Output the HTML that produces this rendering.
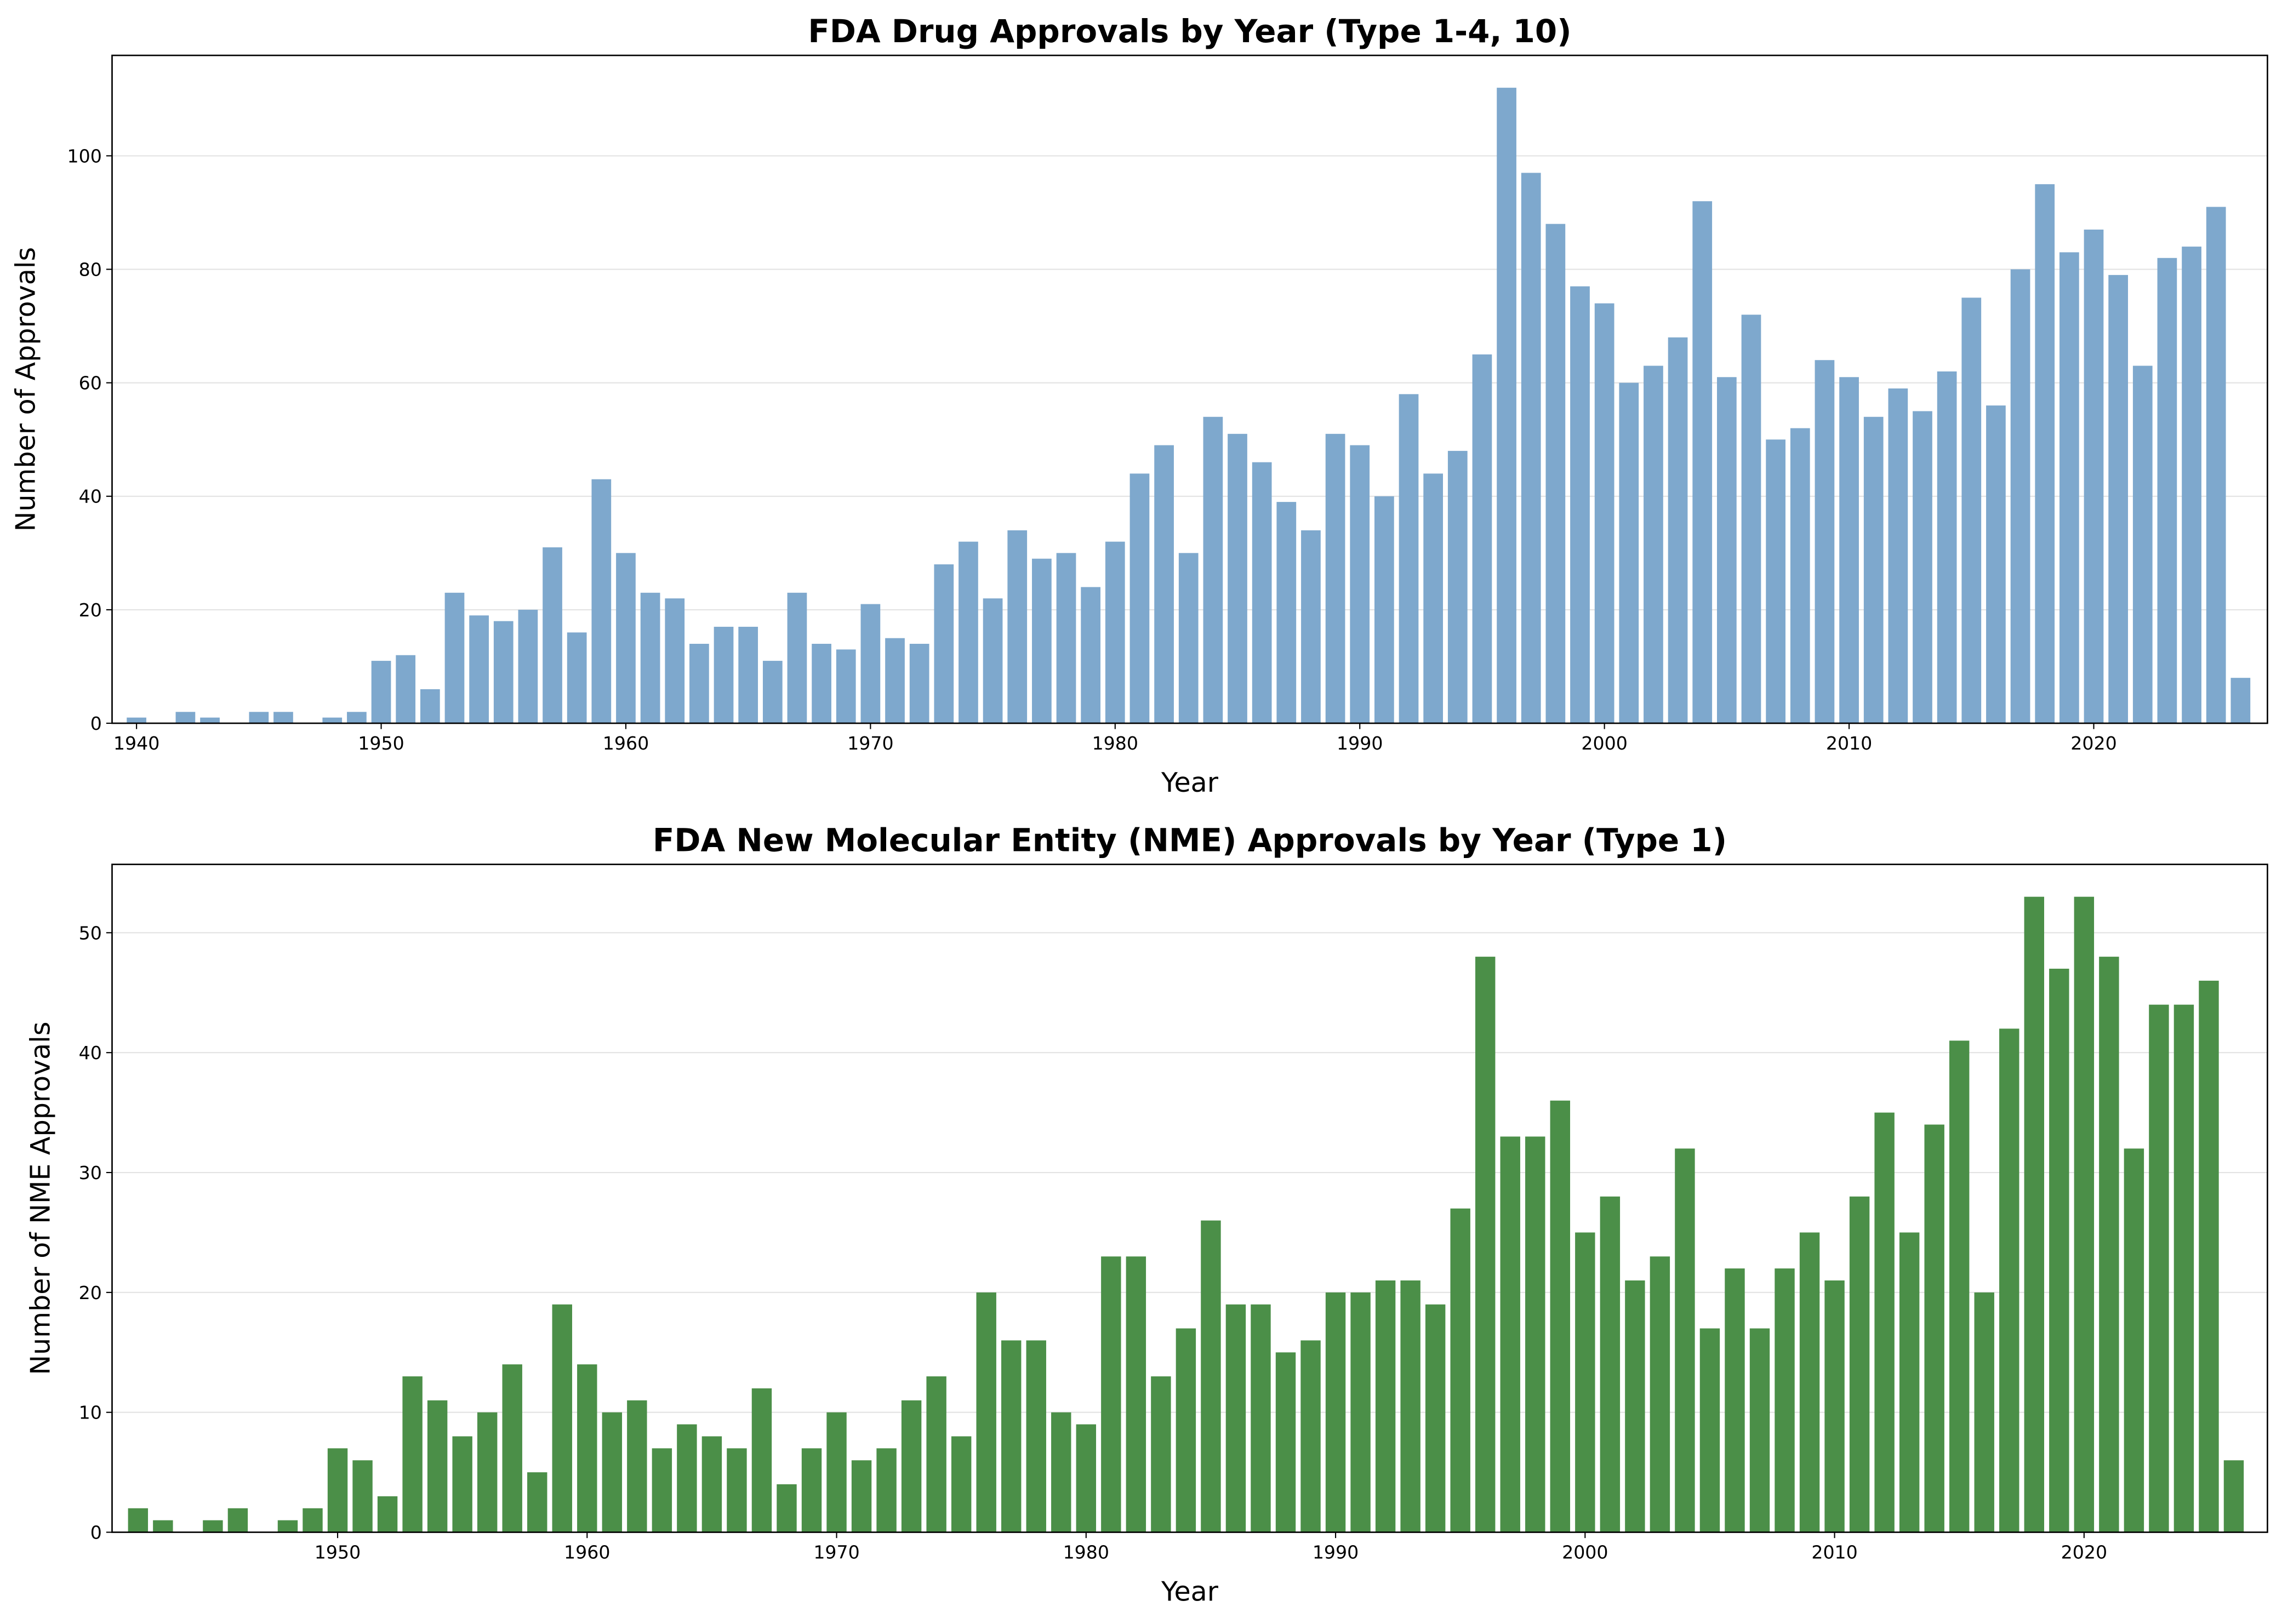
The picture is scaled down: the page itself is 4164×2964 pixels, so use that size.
<!DOCTYPE html>
<html><head><meta charset="utf-8"><style>
html,body{margin:0;padding:0;background:#fff}
svg{display:block}
text{font-family:"DejaVu Sans","Liberation Sans",sans-serif;fill:#000}
</style></head><body>
<svg id="fig" width="4164" height="2964" viewBox="0 0 1568 1116" xmlns="http://www.w3.org/2000/svg"></svg>
<script>
const topYears = [];
for (let y = 1940; y <= 2026; y++) topYears.push(y);
const topValues = [1,0,2,1,0,2,2,0,1,2,11,12,6,23,19,18,20,31,16,43,30,23,22,14,17,17,11,23,14,13,21,15,14,28,32,22,34,29,30,24,32,44,49,30,54,51,46,39,34,51,49,40,58,44,48,65,112,97,88,77,74,60,63,68,92,61,72,50,52,64,61,54,59,55,62,75,56,80,95,83,87,79,63,82,84,91,8];
const topYTicks = [0,20,40,60,80,100];
const botYears = [];
for (let y = 1942; y <= 2026; y++) botYears.push(y);
const botValues = [2,1,0,1,2,0,1,2,7,6,3,13,11,8,10,14,5,19,14,10,11,7,9,8,7,12,4,7,10,6,7,11,13,8,20,16,16,10,9,23,23,13,17,26,19,19,15,16,20,20,21,21,19,27,48,33,33,36,25,28,21,23,32,17,22,17,22,25,21,28,35,25,34,41,20,42,53,47,53,48,32,44,44,46,6];
const botYTicks = [0,10,20,30,40,50];
const xTicks = [1940,1950,1960,1970,1980,1990,2000,2010,2020];

const NS = "http://www.w3.org/2000/svg";
const svg = document.getElementById('fig');
function mk(tag, attrs, parent){const e=document.createElementNS(NS,tag);for(const k in attrs)e.setAttribute(k,attrs[k]);(parent||svg).appendChild(e);return e;}

function panel(cfg){
  const g = mk('g',{});
  
  
  const L=77,R=1558,T=cfg.top,B=cfg.bottom;
  const sx = v => L + (v - cfg.xmin)/(cfg.xmax-cfg.xmin)*(R-L);
  const sy = v => B - v/cfg.ymax*(B-T);
  cfg.yTicks.forEach(t=>{
    const gl=mk('line',{x1:L,x2:R,y1:sy(t),y2:sy(t),stroke:'#e3e3e3','stroke-width':0.8},g);
    
    
  });
  cfg.years.forEach((yr,i)=>{
    const v=cfg.values[i]; if(!v) return;
    const r=mk('rect',{x:sx(yr-0.4),width:sx(yr+0.4)-sx(yr-0.4),y:sy(v),height:B-sy(v),fill:cfg.color},g);
    
    
  });
  const fr=mk('rect',{x:L,y:T,width:R-L,height:B-T,fill:'none',stroke:'#000','stroke-width':1},g);
  
  
  cfg.yTicks.forEach(t=>{
    mk('line',{x1:L-4,x2:L,y1:sy(t),y2:sy(t),stroke:'#000','stroke-width':0.8},g);
    const tx=mk('text',{x:L-7,y:sy(t)+4.5,'text-anchor':'end','font-size':12.5},g);
    tx.textContent=t;
    
    
  });
  cfg.xTicks.forEach(t=>{
    if(sx(t)<L-1) return;
    mk('line',{x1:sx(t),x2:sx(t),y1:B,y2:B+4,stroke:'#000','stroke-width':0.8},g);
    const tx=mk('text',{x:sx(t),y:B+18,'text-anchor':'middle','font-size':12.5},g);
    tx.textContent=t;
    
    
  });
  const xl=mk('text',{x:(L+R)/2,y:B+47,'text-anchor':'middle','font-size':18.5},g);
  xl.textContent='Year';
  
  
  const yc=(T+B)/2;
  const yl=mk('text',{x:cfg.ylx,y:yc,'text-anchor':'middle','font-size':18.5,transform:`rotate(-90 ${cfg.ylx} ${yc})`},g);
  yl.textContent=cfg.ylabel;
  
  
  const ti=mk('text',{x:(L+R)/2,y:T-9,'text-anchor':'middle','font-size':21.8,'font-weight':'bold'},g);
  ti.textContent=cfg.title;
  
  
}
panel({name:'all-approvals-chart',top:38,bottom:497,xmin:1939,xmax:2027.1,ymax:117.7,years:topYears,values:topValues,yTicks:topYTicks,xTicks:xTicks,color:'#7ea8cd',ylabel:'Number of Approvals',ylx:24,title:'FDA Drug Approvals by Year (Type 1-4, 10)'});
panel({name:'nme-approvals-chart',top:594,bottom:1053,xmin:1940.96,xmax:2027.35,ymax:55.7,years:botYears,values:botValues,yTicks:botYTicks,xTicks:xTicks,color:'#4b8f48',ylabel:'Number of NME Approvals',ylx:34,title:'FDA New Molecular Entity (NME) Approvals by Year (Type 1)'});
</script>
</body></html>
